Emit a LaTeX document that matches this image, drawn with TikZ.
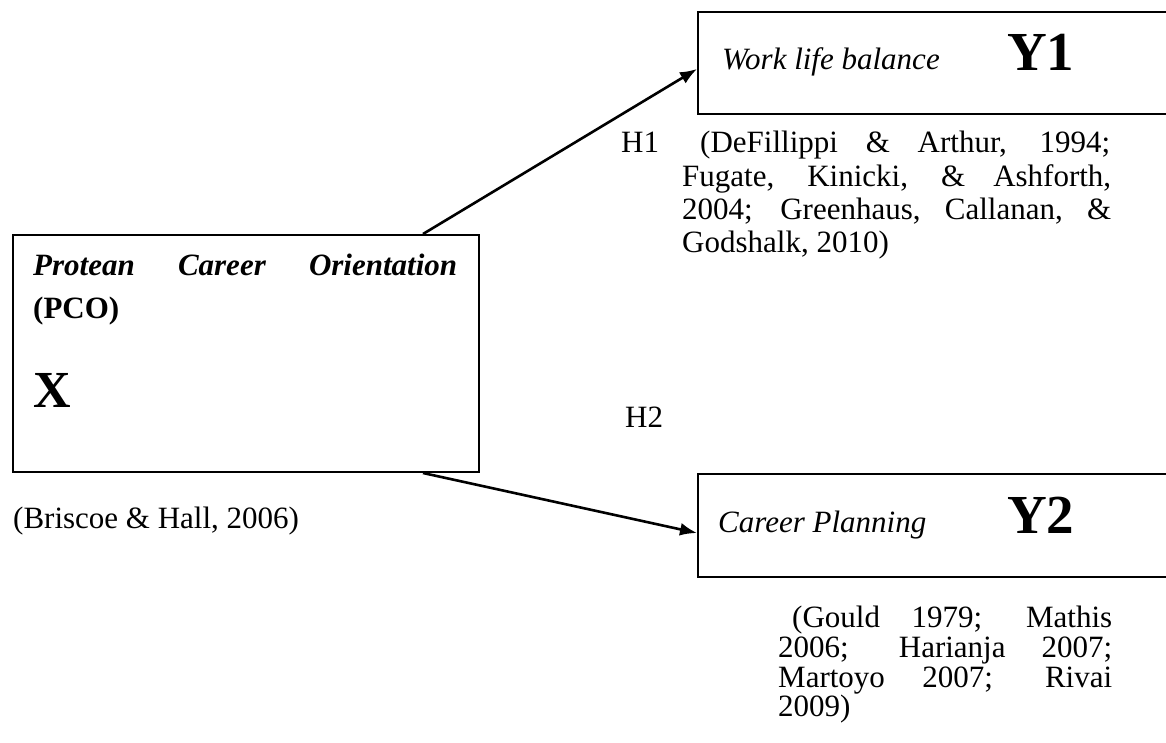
\documentclass[tikz,border=0pt]{standalone}
\usepackage{fontspec}
\setmainfont{Liberation Serif}
\usetikzlibrary{arrows.meta}
\begin{document}
\begin{tikzpicture}[x=1pt,y=-1pt,
  box/.style={draw,line width=2pt,inner sep=0pt,rectangle},
  link/.style={line width=2.6pt,-{Latex[length=17pt,width=13pt]}},
  txt/.style={anchor=base west,inner sep=0pt,font=\fontsize{31}{33}\selectfont},
  big/.style={anchor=base west,inner sep=0pt,font=\fontsize{55}{60}\selectfont\bfseries}]
\useasboundingbox (0,0) rectangle (1166,743);
\begin{scope}
  \clip (0,0) rectangle (1166,743);
  % independent variable and the two outcome boxes (these run off the right edge)
  \node[box,minimum width=466pt,minimum height=237pt] (pco) at (246,353.5) {};
  \node[box,minimum width=490pt,minimum height=102pt,anchor=north west] (wlb) at (697,11) {};
  \node[box,minimum width=490pt,minimum height=103pt,anchor=north west] (cp) at (697,473) {};
\end{scope}

% box contents
\node[txt,font=\fontsize{31}{33}\selectfont\bfseries\itshape] (pcoA) at (33,275)
  {\makebox[424pt][s]{Protean Career Orientation}};
\node[txt,font=\fontsize{31}{33}\selectfont\bfseries] (pcoB) at (33,318) {(PCO)};
\node[big,font=\fontsize{52}{56}\selectfont\bfseries] (pcoX) at (33,407) {X};

\node[txt,font=\fontsize{31}{33}\selectfont\itshape] (wlbT) at (722,70) {Work life balance};
\node[big] (wlbY) at (1007,71) {Y1};
\node[txt,font=\fontsize{31}{33}\selectfont\itshape] (cpT) at (718,532) {Career Planning};
\node[big] (cpY) at (1007,533) {Y2};

% hypothesis paths
\draw[link] ([xshift=177pt]pco.north) -- ([yshift=-6pt]wlb.west);
\draw[link] ([xshift=177pt]pco.south) -- ([yshift=-7.5pt]cp.west);

% hypothesis labels and references
\node[txt] (h1) at (621,153) {H1};
\node[txt] (r1a) at (700,153) {\makebox[410pt][s]{(DeFillippi \& Arthur, 1994;}};
\node[txt] (r1b) at (682,186.5) {\makebox[429pt][s]{Fugate, Kinicki, \& Ashforth,}};
\node[txt] (r1c) at (682,219.5) {\makebox[429pt][s]{2004; Greenhaus, Callanan, \&}};
\node[txt] (r1d) at (682,252.5) {Godshalk, 2010)};

\node[txt] (h2) at (625,427) {H2};

\node[txt] (rx) at (13,528) {(Briscoe \& Hall, 2006)};

\node[txt] (r2a) at (792,627) {\makebox[320pt][s]{(Gould 1979; Mathis}};
\node[txt] (r2b) at (778,657) {\makebox[334pt][s]{2006; Harianja 2007;}};
\node[txt] (r2c) at (778,687) {\makebox[334pt][s]{Martoyo 2007; Rivai}};
\node[txt] (r2d) at (778,716) {2009)};
\end{tikzpicture}
\end{document}
